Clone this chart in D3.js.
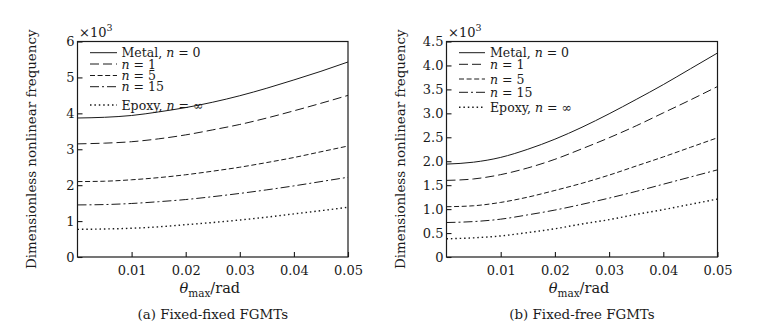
<!DOCTYPE html>
<html>
<head>
<meta charset="utf-8">
<script src="https://cdn.jsdelivr.net/npm/d3@7/dist/d3.min.js"></script>
<style>
  html, body { margin: 0; padding: 0; background: #fff; }
  svg { display: block; }
  text { font-family: "DejaVu Serif", "Liberation Serif", serif; fill: #1a1a1a; }
</style>
</head>
<body>
<svg id="chart" width="778" height="334"></svg>
<script>
// ---------------- DATA (values in units of 10^3) ----------------
const thetaMax = [0, 0.005, 0.01, 0.015, 0.02, 0.025, 0.03, 0.035, 0.04, 0.045, 0.05];

const seriesNames = ["Metal, n = 0", "n = 1", "n = 5", "n = 15", "Epoxy, n = ∞"];

// (a) Fixed-fixed FGMTs
const fixedFixedMetal = [3.87, 3.89, 3.94, 4.04, 4.16, 4.31, 4.49, 4.70, 4.93, 5.17, 5.43];
const fixedFixedN1    = [3.15, 3.17, 3.21, 3.29, 3.40, 3.54, 3.69, 3.87, 4.07, 4.28, 4.50];
const fixedFixedN5    = [2.10, 2.11, 2.15, 2.21, 2.29, 2.39, 2.50, 2.63, 2.77, 2.93, 3.09];
const fixedFixedN15   = [1.45, 1.46, 1.49, 1.54, 1.60, 1.68, 1.77, 1.87, 1.98, 2.10, 2.22];
const fixedFixedEpoxy = [0.77, 0.78, 0.80, 0.84, 0.90, 0.96, 1.03, 1.11, 1.20, 1.29, 1.385];

// (b) Fixed-free FGMTs
const fixedFreeMetal = [1.94, 1.98, 2.08, 2.25, 2.46, 2.71, 2.99, 3.29, 3.60, 3.93, 4.26];
const fixedFreeN1    = [1.60, 1.63, 1.72, 1.86, 2.04, 2.26, 2.49, 2.74, 3.01, 3.28, 3.56];
const fixedFreeN5    = [1.05, 1.07, 1.14, 1.25, 1.39, 1.54, 1.71, 1.90, 2.09, 2.29, 2.49];
const fixedFreeN15   = [0.72, 0.74, 0.79, 0.88, 0.98, 1.10, 1.23, 1.37, 1.52, 1.67, 1.82];
const fixedFreeEpoxy = [0.38, 0.40, 0.44, 0.51, 0.59, 0.69, 0.78, 0.89, 0.99, 1.10, 1.21];

const xTicks = [0.01, 0.02, 0.03, 0.04, 0.05];
const yTicksA = [0, 1, 2, 3, 4, 5, 6];
const yTicksB = [0, 0.5, 1.0, 1.5, 2.0, 2.5, 3.0, 3.5, 4.0, 4.5];
const captions = ["(a) Fixed-fixed FGMTs", "(b) Fixed-free FGMTs"];

// ---------------- STYLES / LAYOUT ----------------
const dashes = [null, "9,4", "5,2.6", "9,3,2,3", "1.5,2.9"];
const widths = [1, 1, 1, 1, 1.4];
const lineColor = "#1a1a1a";
const FS = 12.5;      // ticks & legend
const FS_LABEL = 13.4; // axis titles & captions

const panels = [
  {
    left: 77.5, right: 348, top: 41.5, bottom: 257,
    yMax: 6, yTicks: yTicksA, yFmt: d => String(d),
    series: [fixedFixedMetal, fixedFixedN1, fixedFixedN5, fixedFixedN15, fixedFixedEpoxy],
    caption: captions[0],
    legend: { x0: 90, x1: 117, tx: 121.5, rows: [52.7, 64, 75.5, 86.7, 105] }
  },
  {
    left: 446.5, right: 717.5, top: 41.5, bottom: 257,
    yMax: 4.5, yTicks: yTicksB, yFmt: d => d === 0 ? "0" : d.toFixed(1),
    series: [fixedFreeMetal, fixedFreeN1, fixedFreeN5, fixedFreeN15, fixedFreeEpoxy],
    caption: captions[1],
    legend: { x0: 459, x1: 485, tx: 490, rows: [52.7, 64.3, 79, 92.3, 107.3] }
  }
];

const svg = d3.select("#chart");

function legendLabel(sel, name) {
  const idx = name.indexOf("n =");
  const pre = name.slice(0, idx);
  const post = name.slice(idx + 1);
  if (pre) sel.append("tspan").text(pre);
  sel.append("tspan").attr("font-style", "italic").text("n");
  sel.append("tspan").text(post);
}

panels.forEach(p => {
  const g = svg.append("g");
  const x = d3.scaleLinear().domain([0, 0.05]).range([p.left, p.right]);
  const y = d3.scaleLinear().domain([0, p.yMax]).range([p.bottom, p.top]);

  const xa = g.append("g").attr("transform", `translate(0,${p.bottom})`)
    .call(d3.axisBottom(x).tickValues(xTicks).tickFormat(d3.format(".2f"))
      .tickSizeInner(-5).tickSizeOuter(0).tickPadding(9));
  const ya = g.append("g").attr("transform", `translate(${p.left},0)`)
    .call(d3.axisLeft(y).tickValues(p.yTicks).tickFormat(p.yFmt)
      .tickSizeInner(-5).tickSizeOuter(0).tickPadding(3));
  [xa, ya].forEach(a => {
    a.select(".domain").remove();
    a.selectAll("line").attr("stroke", lineColor).attr("stroke-width", 1.1);
    a.selectAll("text").attr("font-family", "DejaVu Serif").attr("font-size", 13).attr("fill", "#1a1a1a");
  });

  g.append("rect")
    .attr("x", p.left).attr("y", p.top)
    .attr("width", p.right - p.left).attr("height", p.bottom - p.top)
    .attr("fill", "none").attr("stroke", lineColor).attr("stroke-width", 1.2);

  const line = d3.line().x((d, i) => x(thetaMax[i])).y(d => y(d)).curve(d3.curveMonotoneX);
  p.series.forEach((s, k) => {
    g.append("path").datum(s)
      .attr("d", line)
      .attr("fill", "none")
      .attr("stroke", lineColor)
      .attr("stroke-width", widths[k])
      .attr("stroke-dasharray", dashes[k]);
  });

  seriesNames.forEach((name, k) => {
    const yy = p.legend.rows[k];
    g.append("line")
      .attr("x1", p.legend.x0).attr("x2", p.legend.x1)
      .attr("y1", yy).attr("y2", yy)
      .attr("stroke", lineColor).attr("stroke-width", widths[k])
      .attr("stroke-dasharray", dashes[k]);
    const t = g.append("text").attr("x", p.legend.tx).attr("y", yy + 4.5).attr("font-size", FS);
    legendLabel(t, name);
  });

  const m = g.append("text").attr("x", p.left + 1.5).attr("y", p.top - 4.5).attr("font-size", 13);
  m.append("tspan").text("×10");
  m.append("tspan").attr("font-size", 9.5).attr("dy", -6).text("3");

  const cy = (p.top + p.bottom) / 2;
  g.append("text")
    .attr("transform", `translate(${p.left - 42},${cy}) rotate(-90)`)
    .attr("text-anchor", "middle").attr("font-size", FS_LABEL)
    .text("Dimensionless nonlinear frequency");

  const cx = (p.left + p.right) / 2;
  const xl = g.append("text").attr("x", cx - 3).attr("y", 293).attr("text-anchor", "middle").attr("font-size", 14.5);
  xl.append("tspan").attr("font-style", "italic").text("θ");
  xl.append("tspan").attr("font-size", 10.5).attr("dy", 4).text("max");
  xl.append("tspan").attr("dy", -4).text("/rad");

  g.append("text").attr("x", cx).attr("y", 319).attr("text-anchor", "middle").attr("font-size", FS_LABEL)
    .text(p.caption);
});
</script>
</body>
</html>
